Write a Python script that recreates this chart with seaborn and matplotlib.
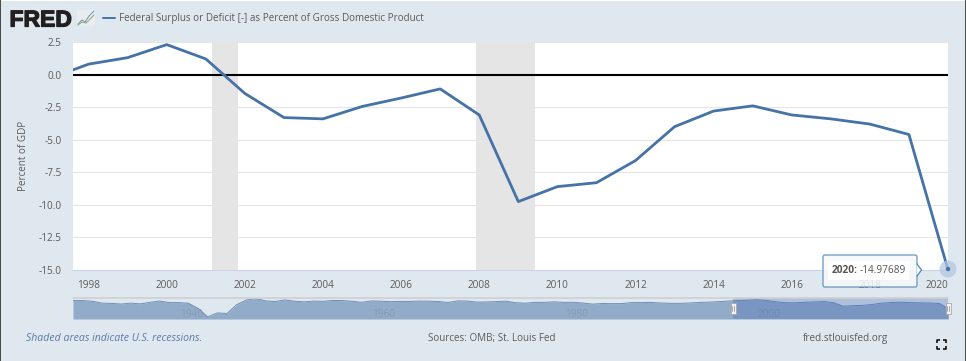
import numpy as np
import pandas as pd
import matplotlib
matplotlib.use("Agg")
import matplotlib.pyplot as plt
import matplotlib.patheffects as pe
from matplotlib.patches import Rectangle, Polygon, FancyBboxPatch, Circle
import seaborn as sns

# main chart data
years = [1997, 1998, 1999, 2000, 2001, 2002, 2003, 2004, 2005, 2006, 2007, 2008,
         2009, 2010, 2011, 2012, 2013, 2014, 2015, 2016, 2017, 2018, 2019, 2020]
deficit = [-0.3, 0.8, 1.3, 2.3, 1.2, -1.45, -3.3, -3.4, -2.45, -1.8, -1.1, -3.1,
           -9.75, -8.6, -8.3, -6.6, -4.0, -2.8, -2.4, -3.1, -3.4, -3.8, -4.6, -14.97689]
recessions = [(2001.17, 2001.83), (2007.92, 2009.42)]
y_ticks = [2.5, 0, -2.5, -5, -7.5, -10, -12.5, -15]
x_ticks = [1998, 2000, 2002, 2004, 2006, 2008, 2010, 2012, 2014, 2016, 2018, 2020]

# navigator data
nav_years = list(range(1929, 1997))
nav_values = [0.7, 0.8, -0.6, -4.0, -4.5, -5.8, -4.0, -5.4, -2.5, -0.1, -3.1, -3.0, -4.3,
              -13.9, -29.6, -22.2, -23.3, -7.0, 1.7, 4.5, 0.2, -1.1, 1.9, -0.4, -1.7, -0.3,
              -0.7, 0.9, 0.7, -0.6, -2.5, 0.1, -0.6, -1.2, -0.8, -0.9, -0.2, -0.5, -1.0,
              -2.8, 0.3, -0.3, -2.1, -1.9, -1.1, -0.4, -3.3, -4.1, -2.6, -2.6, -1.6, -2.6,
              -2.5, -3.9, -5.9, -4.7, -5.0, -4.9, -3.1, -3.0, -2.7, -3.7, -4.4, -4.5, -3.8,
              -2.8, -2.2, -1.3]
nav_labels = [1940, 1960, 1980, 2000]

data = pd.DataFrame({"year": years, "deficit": deficit})
nav = pd.DataFrame({"year": nav_years + years, "value": nav_values + deficit})

W, H = 966, 361
BG = "#dfe7ef"
BLUE = "#4572a7"
GREY = "#5c5c5c"

sns.set_theme(style="white")
plt.rcParams["font.family"] = ["Open Sans", "DejaVu Sans"]


def box(x0, y0, x1, y1):
    # pixel box (y from the top) to figure fractions
    return [x0 / W, 1 - y1 / H, (x1 - x0) / W, (y1 - y0) / H]


fig = plt.figure(figsize=(W / 100, H / 100), dpi=100, facecolor=BG)

# main plot
ax = fig.add_axes(box(73, 42, 948, 270), facecolor="white")
for a, b in recessions:
    ax.axvspan(a, b, color="#e5e5e5", lw=0, zorder=1)
ax.grid(axis="y", color="#e6e6e6", lw=0.8, zorder=0)
ax.set_axisbelow(True)
ax.axhline(0, color="black", lw=1.5, zorder=2)
sns.lineplot(data=data, x="year", y="deficit", ax=ax, color=BLUE, lw=2.0, zorder=3, clip_on=True)
ax.set_xlim(1997.6, 2020.0)
ax.set_ylim(-15, 2.5)
ax.set_yticks(y_ticks)
ax.set_yticklabels(["%.1f" % v for v in y_ticks])
ax.set_xticks(x_ticks)
ax.set_xticklabels([str(v) for v in x_ticks])
ax.get_xticklabels()[-1].set_ha("right")
ax.set_xlabel("")
ax.set_ylabel("Percent of GDP", fontsize=7.1, color=GREY, labelpad=7)
ax.tick_params(axis="y", length=0, labelsize=7.2, labelcolor=GREY, pad=8)
ax.tick_params(axis="x", length=5, width=0.8, color="#ccd6eb", labelsize=7.2, labelcolor=GREY, pad=2)
for s in ["top", "left", "right"]:
    ax.spines[s].set_visible(False)
ax.spines["bottom"].set_color("#ccd6eb")
ax.spines["bottom"].set_linewidth(0.8)

# navigator
nx = fig.add_axes(box(73, 298, 948, 319), facecolor="none")
nx.fill_between(nav["year"], nav["value"], -33.5, color="#92abc9", lw=0, zorder=1)
sns.lineplot(data=nav, x="year", y="value", ax=nx, color="#6f8fb8", lw=0.7, zorder=2)
nx.set_xlim(1929, 2019.9)
nx.set_ylim(-33.5, 5.5)
nx.axvspan(1997.6, 2020, color="#3f66b0", alpha=0.3, lw=0, zorder=3)
nx.axhline(5.5, color="#cfcfcf", lw=1.2, zorder=4, clip_on=False)
for v in nav_labels:
    nx.text(v + 1.3, -24.5, str(v), fontsize=7.2, color="#8397ad", alpha=0.75,
            ha="center", va="center", zorder=2)
nx.set_xlabel("")
nx.set_ylabel("")
nx.set_xticks([])
nx.set_yticks([])
for s in nx.spines.values():
    s.set_visible(False)

# overlay in pixels for the page furniture
ov = fig.add_axes([0, 0, 1, 1], facecolor="none")
ov.set_xlim(0, W)
ov.set_ylim(H, 0)
ov.axis("off")

ov.add_patch(Rectangle((0, 0), W, 1, color="white", lw=0))
ov.add_patch(Rectangle((0, 0), 1, H, color="#4a4a4a", lw=0))
ov.add_patch(Rectangle((W - 1, 0), 1, H, color="#4a4a4a", lw=0))

# logo
ov.text(9.5, 26.5, "FRED", fontsize=16.5, fontweight="bold", family="Liberation Sans",
        color="#231f20", ha="left", va="baseline",
        path_effects=[pe.withStroke(linewidth=0.9, foreground="#231f20")])
ov.add_patch(Rectangle((77, 10), 18, 16, color="#e9edf0", lw=0))
ov.plot([78, 82, 85, 89, 94], [24, 20, 22, 16, 11], color="#7d9cc0", lw=0.8)
ov.plot([78, 82, 86, 90, 94], [25, 22, 23, 19, 15], color="#8fae7a", lw=0.8)

# legend
ov.plot([103, 115], [18, 18], color=BLUE, lw=1.4)
ov.text(119, 18, "Federal Surplus or Deficit [-] as Percent of Gross Domestic Product",
        fontsize=7.14, color=GREY, ha="left", va="center")

# footer
ov.text(26, 338.5, "Shaded areas indicate U.S. recessions.", fontsize=7.55, style="italic",
        color="#5a7bab", ha="left", va="center")
ov.text(428, 338.5, "Sources: OMB; St. Louis Fed", fontsize=7.15, color=GREY, ha="left", va="center")
ov.text(803, 338.5, "fred.stlouisfed.org", fontsize=7.2, color=GREY, ha="left", va="center")

# fullscreen icon
for cx, cy, dx, dy in [(937, 340, 1, 1), (946, 340, -1, 1), (937, 349, 1, -1), (946, 349, -1, -1)]:
    ov.plot([cx + 3 * dx, cx, cx], [cy, cy, cy + 3 * dy], color="black", lw=1.1, solid_capstyle="butt")

# navigator handles
for hx in [733, 948]:
    ov.add_patch(Rectangle((hx - 2.5, 303), 5, 11, fc="#f2f2f2", ec="#a9a9a9", lw=0.6))
    ov.plot([hx - 0.7, hx - 0.7], [306, 311], color="#8a8a8a", lw=0.5)
    ov.plot([hx + 0.7, hx + 0.7], [306, 311], color="#8a8a8a", lw=0.5)

# point at 2020
ov.add_patch(Circle((948, 269), 8.5, fc="#b4c8e0", ec="none", alpha=0.75))
ov.add_patch(Circle((948, 269), 2.2, fc=BLUE, ec="none"))

# tooltip
ov.add_patch(FancyBboxPatch((823, 255), 94, 32, boxstyle="round,pad=0,rounding_size=2",
                            fc="#f7f9fb", ec="#5f8fc0", lw=1.0, alpha=0.85))
ov.add_patch(Polygon([(916.5, 264), (921.5, 270), (916.5, 276)], fc="#f7f9fb", ec="none"))
ov.plot([917, 921.5, 917], [264, 270, 276], color="#5f8fc0", lw=1.0)
ov.add_patch(Rectangle((828, 261), 81, 19, fc="white", ec="none"))
ov.text(832, 270.5, "2020:", fontsize=7.3, fontweight="bold", color="#555555", ha="left", va="center")
ov.text(860, 270.5, "-14.97689", fontsize=7.2, color="#555555", ha="left", va="center")

fig.savefig("out.png", dpi=100, facecolor=BG)
